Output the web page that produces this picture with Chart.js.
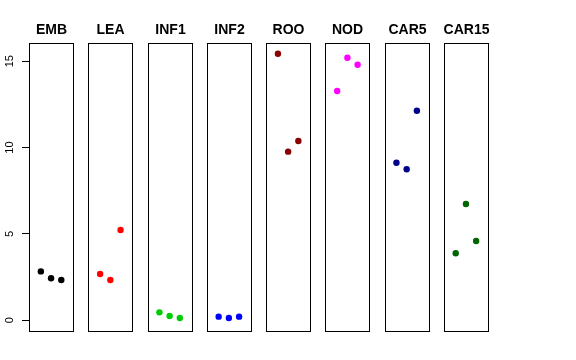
<!DOCTYPE html>
<html><head><meta charset="utf-8">
<script src="https://cdn.jsdelivr.net/npm/chart.js@4/dist/chart.umd.min.js"></script>
<style>html,body{margin:0;padding:0;background:#fff}#c{display:block}</style>
</head><body>
<canvas id="c" width="576" height="360"></canvas>
<script>
const categories = ["EMB","LEA","INF1","INF2","ROO","NOD","CAR5","CAR15"];
const EMB   = [2.83, 2.43, 2.33];
const LEA   = [2.68, 2.33, 5.23];
const INF1  = [0.46, 0.25, 0.13];
const INF2  = [0.21, 0.13, 0.21];
const ROO   = [15.43, 9.76, 10.38];
const NOD   = [13.27, 15.20, 14.79];
const CAR5  = [9.12, 8.74, 12.13];
const CAR15 = [3.88, 6.73, 4.59];
const seriesValues = [EMB, LEA, INF1, INF2, ROO, NOD, CAR5, CAR15];
const colors = ["#000000","#FF0000","#00CD00","#0000FF","#8B0000","#FF00FF","#00008B","#006400"];
const yTicks = [0, 5, 10, 15];

const STEP = 5.8, XLO = -0.16, XHI = 4.16;

const datasets = seriesValues.map((vals, i) => ({
  label: categories[i],
  data: vals.map((v, j) => ({x: i*STEP + j + 1, y: v})),
  backgroundColor: colors[i],
  borderColor: colors[i],
  pointRadius: 3.2,
  pointHoverRadius: 3.2,
  borderWidth: 0
}));

const panels = {
  id: 'panels',
  afterDatasetsDraw(chart) {
    const ctx = chart.ctx, xs = chart.scales.x, ca = chart.chartArea;
    ctx.save();
    ctx.strokeStyle = '#000';
    ctx.lineWidth = 1;
    ctx.fillStyle = '#000';
    ctx.font = 'bold 14px "Liberation Sans", Arial, sans-serif';
    ctx.textAlign = 'center';
    ctx.textBaseline = 'alphabetic';
    categories.forEach((c, i) => {
      const l = Math.round(xs.getPixelForValue(i*STEP + XLO)) + 0.5;
      const r = Math.round(xs.getPixelForValue(i*STEP + XHI)) + 0.5;
      const t = Math.round(ca.top) + 0.5, b = Math.round(ca.bottom) + 0.5;
      ctx.strokeRect(l, t, r - l, b - t);
      ctx.fillText(c, (l + r) / 2, 34);
    });
    ctx.restore();
  }
};

new Chart(document.getElementById('c'), {
  type: 'scatter',
  data: { datasets },
  options: {
    responsive: false,
    animation: false,
    devicePixelRatio: 1,
    layout: { padding: { left: 0, right: 88, top: 43, bottom: 29 } },
    plugins: { legend: { display: false }, tooltip: { enabled: false } },
    scales: {
      x: { type: 'linear', display: false, min: XLO, max: 7*STEP + XHI },
      y: {
        type: 'linear', min: -0.62, max: 16.05,
        afterBuildTicks(s) { s.ticks = yTicks.map(v => ({value: v})); },
        afterFit(s) { s.width = 29; },
        border: { display: false },
        grid: { drawOnChartArea: false, drawTicks: true, tickLength: 7, color: '#000', lineWidth: 1 },
        ticks: {
          minRotation: 90, maxRotation: 90, padding: 6, crossAlign: 'center',
          color: '#000',
          font: { family: '"Liberation Sans", Arial, sans-serif', size: 11 }
        }
      }
    }
  },
  plugins: [panels]
});
</script>
</body></html>
